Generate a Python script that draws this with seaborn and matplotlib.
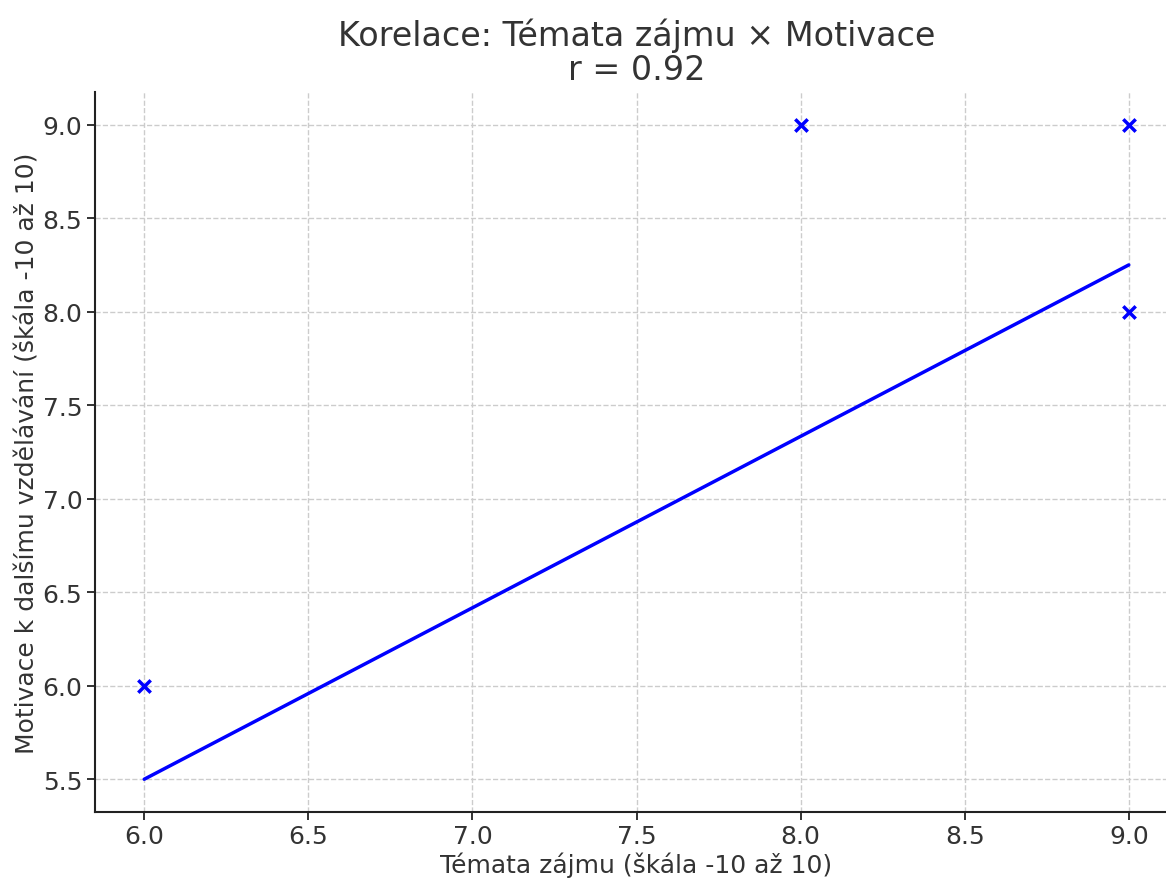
import numpy as np
import pandas as pd
import matplotlib
matplotlib.use("Agg")
import matplotlib.pyplot as plt
import seaborn as sns

# Data
temata = [6, 8, 9, 9]
motivace = [6, 9, 9, 8]
fit_slope = 0.9167
fit_intercept = 0.0
r_value = 0.92

title_text = "Korelace: Témata zájmu × Motivace"
xlabel_text = "Témata zájmu (škála -10 až 10)"
ylabel_text = "Motivace k dalšímu vzdělávání (škála -10 až 10)"

sns.set_style("ticks")
plt.rcParams['font.family'] = ['DejaVu Sans']
text_color = "#333333"
plt.rcParams['text.color'] = text_color
plt.rcParams['axes.labelcolor'] = text_color
plt.rcParams['xtick.color'] = text_color
plt.rcParams['ytick.color'] = text_color

df = pd.DataFrame({"x": temata, "y": motivace})
xs = np.array([min(temata), max(temata)], dtype=float)
fit_df = pd.DataFrame({"x": xs, "y": fit_slope * xs + fit_intercept})

fig = plt.figure(figsize=(11.66, 8.79), dpi=100)
ax = fig.add_axes([95/1166, 1 - 813/879, (1178 - 95)/1166, (813 - 93)/879])

sns.scatterplot(data=df, x="x", y="y", marker="x", color="blue", s=80,
                linewidth=2.5, ax=ax, zorder=3)
sns.lineplot(data=fit_df, x="x", y="y", color="blue", linewidth=2.5, ax=ax, zorder=2)

ax.set_xlim(5.85, 9.15)
ax.set_ylim(5.325, 9.175)
ax.set_xticks(np.arange(6.0, 9.01, 0.5))
ax.set_yticks(np.arange(5.5, 9.01, 0.5))
ax.xaxis.set_major_formatter(matplotlib.ticker.FormatStrFormatter('%.1f'))
ax.yaxis.set_major_formatter(matplotlib.ticker.FormatStrFormatter('%.1f'))

ax.grid(True, linestyle='--', color='#cccccc', linewidth=1.0)
ax.set_axisbelow(True)
for s in ["top", "right"]:
    ax.spines[s].set_visible(False)
for s in ["left", "bottom"]:
    ax.spines[s].set_color("#222222")
    ax.spines[s].set_linewidth(1.5)
ax.tick_params(axis='both', labelsize=18, length=6, width=1.3, colors="#222222",
               labelcolor=text_color, pad=3)

ax.set_xlabel(xlabel_text, fontsize=18, labelpad=2)
ax.set_ylabel(ylabel_text, fontsize=18, labelpad=2.5)
ax.set_title(f"{title_text}\nr = {r_value:.2f}", fontsize=24, pad=9.5,
             linespacing=1.05)

fig.savefig("out.png", dpi=100)
